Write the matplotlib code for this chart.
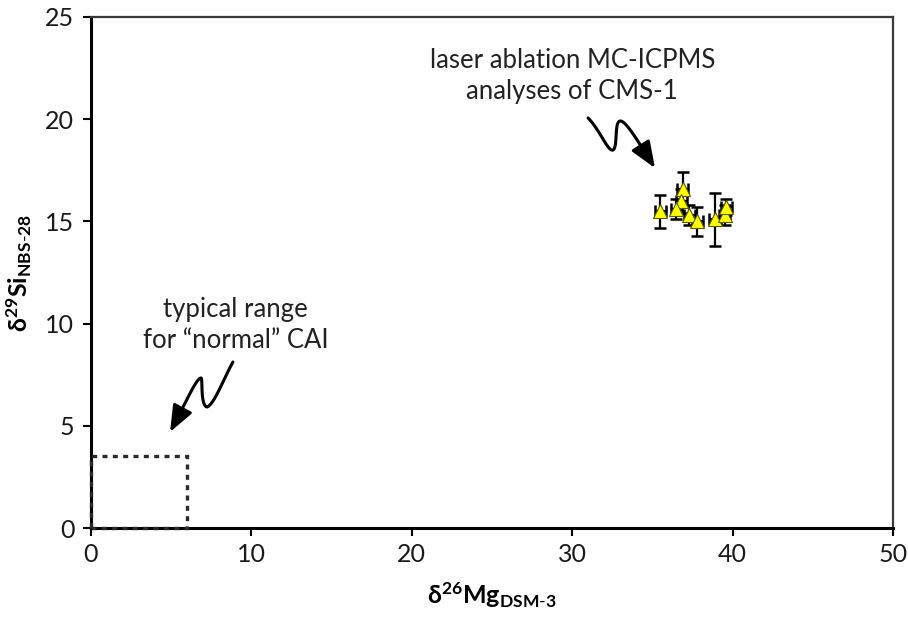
import numpy as np
import matplotlib
matplotlib.use("Agg")
import matplotlib.pyplot as plt
from matplotlib.patches import Rectangle

plt.rcParams['font.family'] = ['Lato', 'DejaVu Sans']
plt.rcParams['mathtext.fontset'] = 'custom'
plt.rcParams['mathtext.rm'] = 'Lato'
plt.rcParams['mathtext.bf'] = 'Lato:bold'
plt.rcParams['mathtext.it'] = 'Lato:italic'

# Laser ablation MC-ICPMS analyses of CMS-1
mg26 = [35.5, 36.9, 36.8, 36.5, 37.3, 37.8, 38.9, 39.5, 39.6]
si29 = [15.5, 16.6, 16.0, 15.6, 15.3, 15.0, 15.1, 15.3, 15.7]
mg26_err = [0.35, 0.35, 0.35, 0.35, 0.35, 0.35, 0.35, 0.35, 0.35]
si29_err = [0.8, 0.8, 0.6, 0.5, 0.5, 0.7, 1.3, 0.5, 0.4]

# Typical range for normal CAIs
cai_mg_max = 6.0
cai_si_max = 3.5

x_ticks = [0, 10, 20, 30, 40, 50]
y_ticks = [0, 5, 10, 15, 20, 25]

fig = plt.figure(figsize=(9.08, 6.22), dpi=100)
ax = fig.add_axes([0.1002, 0.1511, 0.8833, 0.8216])

ax.set_xlim(0, 50)
ax.set_ylim(0, 25)
ax.set_xticks(x_ticks)
ax.set_yticks(y_ticks)
ax.tick_params(axis='both', direction='out', length=6, width=1.5,
               labelsize=18, colors='black', labelcolor='#1a1a1a')
ax.tick_params(axis='x', pad=5)
ax.tick_params(axis='y', pad=6)

for side in ['left', 'bottom']:
    ax.spines[side].set_linewidth(2.2)
    ax.spines[side].set_color('black')
for side in ['top', 'right']:
    ax.spines[side].set_linewidth(1.6)
    ax.spines[side].set_color('#3a3a3a')

# dotted box for the normal-CAI range
box = Rectangle((0, 0), cai_mg_max, cai_si_max, fill=False,
                edgecolor='#2a2a2a', linewidth=2.4, linestyle=(0, (1.5, 1.6)),
                zorder=3, clip_on=False)
ax.add_patch(box)

ax.errorbar(mg26, si29, xerr=mg26_err, yerr=si29_err, fmt='none',
            ecolor='black', elinewidth=1.6, capsize=4.5, capthick=1.8, zorder=4)
ax.plot(mg26, si29, linestyle='none', marker='^', markersize=10.5,
        markerfacecolor='#ffff00', markeredgecolor='#5a5a00',
        markeredgewidth=0.8, zorder=5)


def bezier_curve(pts, n=40):
    """Chain of cubic Bezier segments: P0 C1 C2 P1 C1 C2 P2 ..."""
    pts = np.asarray(pts, dtype=float)
    out = []
    for i in range(0, len(pts) - 1, 3):
        p0, p1, p2, p3 = pts[i:i + 4]
        t = np.linspace(0, 1, n)[:, None]
        seg = ((1 - t) ** 3) * p0 + 3 * ((1 - t) ** 2) * t * p1 \
            + 3 * (1 - t) * t ** 2 * p2 + t ** 3 * p3
        out.append(seg)
    return np.vstack(out)


def squiggle_arrow(pts):
    curve = bezier_curve(pts)
    ax.plot(curve[:-6, 0], curve[:-6, 1], color='black', lw=2.2,
            solid_capstyle='round', zorder=6)
    ax.annotate('', xy=tuple(curve[-1]), xytext=tuple(curve[-8]),
                arrowprops=dict(arrowstyle='-|>,head_length=0.8,head_width=0.32',
                                mutation_scale=20, color='black', lw=2.2,
                                shrinkA=0, shrinkB=0), zorder=6)


squiggle_arrow([(30.99, 20.06), (31.73, 19.47), (32.23, 18.40), (32.54, 18.49),
                (32.86, 18.64), (32.61, 19.86), (32.98, 19.91),
                (33.35, 19.96), (34.23, 18.74), (35.16, 17.61)])
squiggle_arrow([(8.85, 8.12), (8.29, 7.34), (7.67, 6.02), (7.23, 5.92),
                (6.80, 6.02), (6.98, 7.34), (6.86, 7.34),
                (6.55, 7.34), (5.86, 6.02), (4.93, 4.70)])

ax.text(30.0, 22.09, 'laser ablation MC-ICPMS\nanalyses of CMS-1',
        ha='center', va='center', fontsize=18.5, linespacing=1.3, color='#222222')
ax.text(9.0, 9.91, 'typical range\nfor \u201cnormal\u201d CAI',
        ha='center', va='center', fontsize=18.5, linespacing=1.3, color='#222222')

ax.set_xlabel(r'$\mathbf{\delta^{26}Mg_{DSM\text{-}3}}$', fontsize=18, labelpad=10)
ax.set_ylabel(r'$\mathbf{\delta^{29}Si_{NBS\text{-}28}}$', fontsize=18, labelpad=8)

fig.savefig('out.png', dpi=100)
